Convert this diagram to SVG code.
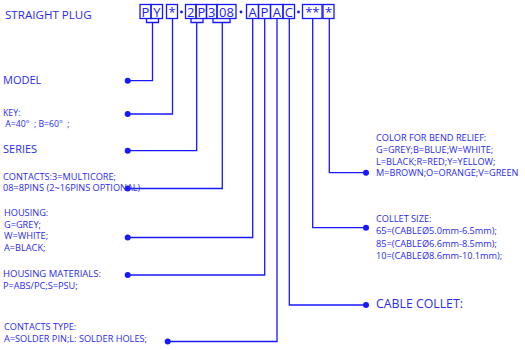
<svg xmlns="http://www.w3.org/2000/svg" width="525" height="350" viewBox="0 0 525 350">
<style>
  .t { font-family: "Open Sans", "Liberation Sans", sans-serif; fill: #2a2af2; }
  .s { font-size: 9.2px; }
  .m { font-size: 11px; }
  .code { font-family: "Open Sans", "Liberation Sans", sans-serif; fill: #2020f0; font-size: 13px; text-anchor: middle; }
  .box { fill: none; stroke: #1818ff; stroke-width: 1.3; }
  .ln { fill: none; stroke: #1818ff; stroke-width: 1.3; }
  .dot { fill: #1818ff; }
</style>
<rect width="525" height="350" fill="#ffffff"/>

<g id="title"><text class="t" x="5" y="19" style="font-size:11.6px">STRAIGHT PLUG</text></g>

<g id="code">
  <rect class="box" x="140" y="4.5" width="11" height="14"/>
  <rect class="box" x="151" y="4.5" width="11.5" height="14"/>
  <rect class="box" x="166.5" y="4.5" width="11" height="14"/>
  <rect class="box" x="185.5" y="4.5" width="10.5" height="14"/>
  <rect class="box" x="196" y="4.5" width="10.5" height="14"/>
  <rect class="box" x="206.5" y="4.5" width="10.5" height="14"/>
  <rect class="box" x="217" y="4.5" width="19" height="14"/>
  <rect class="box" x="246.5" y="4.5" width="12" height="14"/>
  <rect class="box" x="258.5" y="4.5" width="12" height="14"/>
  <rect class="box" x="270.5" y="4.5" width="12.5" height="14"/>
  <rect class="box" x="283" y="4.5" width="11.5" height="14"/>
  <rect class="box" x="302.5" y="4.5" width="19.5" height="14"/>
  <rect class="box" x="323" y="4.5" width="11" height="14"/>
  <circle class="dot" cx="181.5" cy="12" r="1.4"/>
  <circle class="dot" cx="241" cy="12" r="1.4"/>
  <circle class="dot" cx="298.5" cy="12" r="1.4"/>
  <text class="code" x="145.5" y="16.5">P</text>
  <text class="code" x="156.8" y="16.5">Y</text>
  <text class="code" x="172" y="16.5">*</text>
  <text class="code" x="190.8" y="16.5">2</text>
  <text class="code" x="201.3" y="16.5">P</text>
  <text class="code" x="211.8" y="16.5">3</text>
  <text class="code" x="226.5" y="16.5">08</text>
  <text class="code" x="252.5" y="16.5">A</text>
  <text class="code" x="264.5" y="16.5">P</text>
  <text class="code" x="276.8" y="16.5">A</text>
  <text class="code" x="288.8" y="16.5">C</text>
  <text class="code" x="312.3" y="16.5">**</text>
  <text class="code" x="328.5" y="16.5">*</text>
</g>

<g id="connectors">
  <path class="ln" d="M146.5 18.5 V22.5 H158.5 V18.5 M152.5 22.5 V80.7 H127.7"/>
  <path class="ln" d="M172.5 18.5 V114 H127.7"/>
  <path class="ln" d="M191 18.5 V22.5 H203 V18.5 M196.7 22.5 V150.7 H127.7"/>
  <path class="ln" d="M213 18.5 V22.5 H230 V18.5 M222.3 22.5 V188.5 H127.7"/>
  <path class="ln" d="M252.7 18.5 V237.5 H127.7"/>
  <path class="ln" d="M264.7 18.5 V275 H127.7"/>
  <path class="ln" d="M277 18.5 V341.5 H167.7"/>
  <path class="ln" d="M289.3 18.5 V305 H366"/>
  <path class="ln" d="M312.7 18.5 V227.7 H366"/>
  <path class="ln" d="M329.3 18.5 V172.7 H366"/>
  <circle class="dot" cx="127.7" cy="80.7" r="3"/>
  <circle class="dot" cx="127.7" cy="114" r="3"/>
  <circle class="dot" cx="127.7" cy="150.7" r="3"/>
  <circle class="dot" cx="127.7" cy="188.5" r="3"/>
  <circle class="dot" cx="127.7" cy="237.5" r="3"/>
  <circle class="dot" cx="127.7" cy="275" r="3"/>
  <circle class="dot" cx="167.7" cy="341.5" r="3"/>
  <circle class="dot" cx="366" cy="172.7" r="3"/>
  <circle class="dot" cx="366" cy="227.7" r="3"/>
  <circle class="dot" cx="366" cy="305" r="3"/>
</g>

<g id="model"><text class="t m" x="3" y="84">MODEL</text></g>
<g id="key">
  <text class="t" x="3" y="115.5" style="font-size:8.7px">KEY:</text>
  <text class="t" x="3" y="127" style="font-size:8.7px" xml:space="preserve"> A=40°  ; B=60°  ;</text>
</g>
<g id="series"><text class="t m" x="3" y="152.5">SERIES</text></g>
<g id="contacts">
  <text class="t s" x="3" y="179.5">CONTACTS:3=MULTICORE;</text>
  <text class="t s" x="3" y="191">08=8PINS (2~16PINS OPTIONAL)</text>
</g>
<g id="housing">
  <text class="t s" x="4" y="215.7">HOUSING:</text>
  <text class="t s" x="4" y="227.5">G=GREY;</text>
  <text class="t s" x="4" y="239">W=WHITE;</text>
  <text class="t s" x="4" y="250.5">A=BLACK;</text>
</g>
<g id="housing-materials">
  <text class="t" x="3" y="277.3" style="font-size:9.5px">HOUSING MATERIALS:</text>
  <text class="t s" x="3" y="289.3">P=ABS/PC;S=PSU;</text>
</g>
<g id="contacts-type">
  <text class="t s" x="4" y="330">CONTACTS TYPE:</text>
  <text class="t s" x="4" y="341.7">A=SOLDER PIN;L: SOLDER HOLES;</text>
</g>
<g id="color">
  <text class="t s" x="376" y="140.7">COLOR FOR BEND RELIEF:</text>
  <text class="t s" x="376" y="153">G=GREY;B=BLUE;W=WHITE;</text>
  <text class="t s" x="376" y="164.8">L=BLACK;R=RED;Y=YELLOW;</text>
  <text class="t s" x="376" y="176.3">M=BROWN;O=ORANGE;V=GREEN</text>
</g>
<g id="collet-size">
  <text class="t s" x="376" y="221.7">COLLET SIZE:</text>
  <text class="t s" x="376" y="234.3">65=(CABLEØ5.0mm-6.5mm);</text>
  <text class="t s" x="376" y="246.7">85=(CABLEØ6.6mm-8.5mm);</text>
  <text class="t s" x="376" y="259.3">10=(CABLEØ8.6mm-10.1mm);</text>
</g>
<g id="cable-collet"><text class="t" x="376" y="307.5" style="font-size:12.3px">CABLE COLLET:</text></g>
</svg>
